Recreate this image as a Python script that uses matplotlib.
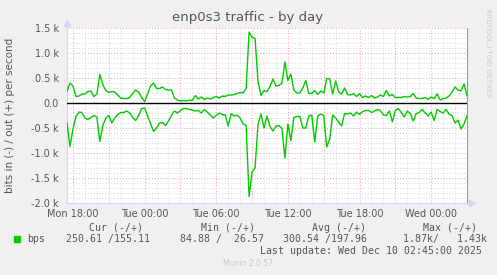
import matplotlib
matplotlib.use("Agg")
import matplotlib.pyplot as plt
import matplotlib.dates as mdates
from matplotlib.ticker import MultipleLocator, FuncFormatter
import pandas as pd

# 15 minute samples, Mon 17:30 .. Wed 03:00
times = pd.date_range("2025-12-08 17:30", "2025-12-10 03:00", freq="15min").to_pydatetime()

out_bps = [230, 400, 340, 130, 140, 180, 180, 230, 240, 130,
           180, 570, 370, 250, 210, 230, 220, 160, 100, 90,
           90, 110, 190, 260, 220, 110, 30, 180, 340, 400,
           290, 290, 320, 270, 260, 260,
           100, 60, 40, 50, 40, 60, 50, 150, 80, 120,
           70, 100, 80, 110, 130, 100, 140, 130, 160, 160,
           170, 190, 210, 200, 290, 1420, 1310, 1290, 420, 150,
           250, 230,
           330, 480, 340, 350, 400, 820, 450, 580, 260, 200,
           200, 300, 450, 190, 190, 250, 170, 240, 200, 490,
           480, 180, 440, 220, 180, 300, 170, 160, 190, 130,
           190, 110, 140,
           110, 150, 100, 120, 160, 130, 250, 140, 170, 110,
           110, 110, 130, 120, 130, 190, 100, 90, 90, 110,
           70, 120, 90, 180, 60, 90, 100, 140, 220, 320,
           260, 240, 380, 150]

in_bps = [400, 870, 520, 270, 180, 190, 300, 330, 290, 250,
          280, 770, 450, 300, 250, 400, 300, 230, 190, 190,
          160, 200, 290, 350, 250, 110, 100, 260, 410, 570,
          500, 400, 390, 450,
          360, 250, 160, 200, 150, 110, 110, 130, 140, 160,
          150, 200, 130, 180, 240, 300, 250, 200, 230, 240,
          460, 210, 260, 240, 300, 420, 450, 1870, 1380, 1300,
          420, 220, 500, 260,
          470, 560, 460, 450, 510, 1100, 420, 750, 290, 270,
          270, 500, 500, 260, 240, 780, 260, 220, 250, 880,
          720, 240, 300, 380, 460, 210, 220, 200, 260, 180,
          230, 170, 150,
          150, 190, 160, 130, 150, 240, 250, 160, 380, 150,
          110, 190, 280, 160, 210, 360, 210, 190, 130, 200,
          260, 180, 350, 130, 170, 200, 130, 220, 250, 400,
          340, 520, 420, 260]

legend_heads = ["Cur (-/+)", "Min (-/+)", "Avg (-/+)", "Max (-/+)"]
legend_vals = ["250.61 /155.11", "84.88 /  26.57", "300.54 /197.96", "1.87k/   1.43k"]

W, H = 497, 275
GREEN = "#00CC00"
FONT = "#555555"
AXIS = "#CFD6F8"

fig = plt.figure(figsize=(W / 100, H / 100), dpi=100, facecolor="#F0F0F0")
ax = fig.add_axes([67 / W, 1 - 203 / H, 400 / W, 175 / H], facecolor="white")


def px(x, y):
    return x / W, 1 - y / H


ax.plot(times, out_bps, color=GREEN, lw=1.0, zorder=3)
ax.plot(times, [-v for v in in_bps], color=GREEN, lw=1.0, zorder=3)
ax.axhline(0, color="black", lw=1.0, zorder=4)

ax.set_xlim(times[0], times[-1])
ax.set_ylim(-2000, 1500)

# grid
ax.xaxis.set_major_locator(mdates.HourLocator(byhour=range(0, 24, 3)))
ax.xaxis.set_minor_locator(mdates.HourLocator())


def xfmt(x, pos):
    d = mdates.num2date(x)
    return d.strftime("%a %H:%M") if d.hour % 6 == 0 else ""


ax.xaxis.set_major_formatter(FuncFormatter(xfmt))
ax.yaxis.set_major_locator(MultipleLocator(500))
ax.yaxis.set_minor_locator(MultipleLocator(100))
ax.yaxis.set_major_formatter(FuncFormatter(
    lambda v, pos: "0.0" if v == 0 else f"{v / 1000:.1f} k"))

ax.grid(which="major", color="#F0A0A0", ls=(0, (1, 2)), lw=0.7, zorder=1)
ax.grid(which="minor", color="#D8D8D8", ls=(0, (1, 2)), lw=0.7, zorder=1)
ax.set_axisbelow(True)

ax.tick_params(which="both", length=0, colors=FONT, labelsize=7)
ax.tick_params(axis="x", pad=4)
ax.tick_params(axis="y", pad=6)

for s in ["top"]:
    ax.spines[s].set_visible(False)
ax.spines["right"].set_color("#999999")
ax.spines["right"].set_linewidth(0.8)
ax.spines["left"].set_color(AXIS)
ax.spines["bottom"].set_color(AXIS)

# axis arrows
ax.plot([0, 0], [1, 1.03], color=AXIS, lw=0.8, transform=ax.transAxes, clip_on=False)
ax.plot([0], [1.03], marker="^", ms=4, color=AXIS, transform=ax.transAxes, clip_on=False)
ax.plot([1, 1.012], [0, 0], color=AXIS, lw=0.8, transform=ax.transAxes, clip_on=False)
ax.plot([1.012], [0], marker=">", ms=4, color=AXIS, transform=ax.transAxes, clip_on=False)

# texts
fig.text(*px(248, 18), "enp0s3 traffic - by day", ha="center", va="center",
         fontsize=9.5, color=FONT)
fig.text(*px(10, 115), "bits in (-) / out (+) per second", ha="center", va="center",
         rotation=90, fontsize=7.5, color=FONT)
fig.text(*px(488, 53), "RRDTOOL / TOBI OETIKER", ha="center", va="center",
         rotation=270, fontsize=5, color="#C8C8C8")

mono = dict(family="DejaVu Sans Mono", fontsize=7.1, color=FONT, va="center")
head_x = [89, 201, 312, 423]
val_x = [66, 180, 283, 403]
for hx, t in zip(head_x, legend_heads):
    fig.text(*px(hx, 228), t, ha="left", **mono)
for vx, t in zip(val_x, legend_vals):
    fig.text(*px(vx, 239), t, ha="left", **mono)
fig.patches.append(plt.Rectangle(px(14, 242), 6 / W, 6 / H, color=GREEN,
                                 transform=fig.transFigure, figure=fig))
fig.text(*px(27, 239), "bps", ha="left", **mono)
fig.text(*px(482, 251), "Last update: Wed Dec 10 02:45:00 2025", ha="right", **mono)
fig.text(*px(248, 264), "Munin 2.0.57", ha="center", va="center", fontsize=5.5,
         color="#C8C8C8")

fig.savefig("out.png", dpi=100, facecolor=fig.get_facecolor())
